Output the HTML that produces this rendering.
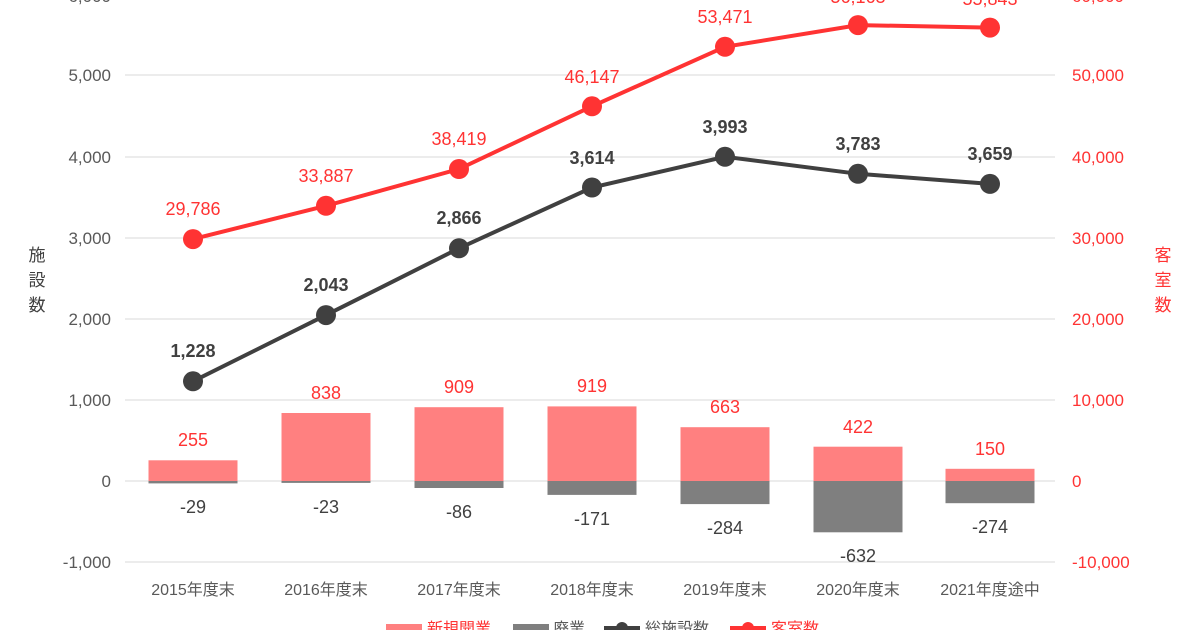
<!DOCTYPE html><html><head><meta charset="utf-8"><style>body{margin:0;background:#fff}svg{display:block}text{font-family:"Liberation Sans","Noto Sans CJK JP",sans-serif}</style></head><body>
<svg width="1200" height="630" xmlns="http://www.w3.org/2000/svg">
<g stroke="#d9d9d9" stroke-width="1">
<line x1="125" x2="1055" y1="75" y2="75"/><line x1="125" x2="1055" y1="157" y2="157"/><line x1="125" x2="1055" y1="238" y2="238"/><line x1="125" x2="1055" y1="319" y2="319"/><line x1="125" x2="1055" y1="400" y2="400"/><line x1="125" x2="1055" y1="481" y2="481"/><line x1="125" x2="1055" y1="562" y2="562"/></g>
<g font-size="17" fill="#595959" text-anchor="end">
<text x="111" y="2">6,000</text><text x="111" y="81">5,000</text><text x="111" y="163">4,000</text><text x="111" y="244">3,000</text><text x="111" y="325">2,000</text><text x="111" y="406">1,000</text><text x="111" y="487">0</text><text x="111" y="568">-1,000</text></g>
<g font-size="17" fill="#ff3333" text-anchor="start">
<text x="1072" y="2">60,000</text><text x="1072" y="81">50,000</text><text x="1072" y="163">40,000</text><text x="1072" y="244">30,000</text><text x="1072" y="325">20,000</text><text x="1072" y="406">10,000</text><text x="1072" y="487">0</text><text x="1072" y="568">-10,000</text></g>
<g font-size="17" fill="#404040" text-anchor="middle"><text x="37" y="261">施</text><text x="37" y="286">設</text><text x="37" y="311">数</text></g>
<g font-size="17" fill="#ff3333" text-anchor="middle"><text x="1163" y="261">客</text><text x="1163" y="286">室</text><text x="1163" y="311">数</text></g>
<g fill="#ff8080">
<rect x="148.5" y="460.3" width="89" height="20.7"/><rect x="281.5" y="413" width="89" height="68"/><rect x="414.5" y="407.2" width="89" height="73.8"/><rect x="547.5" y="406.4" width="89" height="74.6"/><rect x="680.5" y="427.2" width="89" height="53.8"/><rect x="813.5" y="446.7" width="89" height="34.3"/><rect x="945.5" y="468.8" width="89" height="12.2"/></g>
<g fill="#7f7f7f">
<rect x="148.5" y="481" width="89" height="2.4"/><rect x="281.5" y="481" width="89" height="1.9"/><rect x="414.5" y="481" width="89" height="7"/><rect x="547.5" y="481" width="89" height="13.9"/><rect x="680.5" y="481" width="89" height="23.1"/><rect x="813.5" y="481" width="89" height="51.3"/><rect x="945.5" y="481" width="89" height="22.2"/></g>
<g font-size="18" fill="#ff3333" text-anchor="middle">
<text x="193" y="446">255</text><text x="326" y="399">838</text><text x="459" y="393">909</text><text x="592" y="392">919</text><text x="725" y="413">663</text><text x="858" y="433">422</text><text x="990" y="455">150</text></g>
<g font-size="18" fill="#404040" text-anchor="middle">
<text x="193" y="513">-29</text><text x="326" y="513">-23</text><text x="459" y="518">-86</text><text x="592" y="525">-171</text><text x="725" y="534">-284</text><text x="858" y="562">-632</text><text x="990" y="533">-274</text></g>
<polyline fill="none" stroke="#404040" stroke-width="4" points="193,381.3 326,315.1 459,248.3 592,187.5 725,156.8 858,173.8 990,183.9"/>
<g fill="#404040"><circle cx="193" cy="381.3" r="10"/><circle cx="326" cy="315.1" r="10"/><circle cx="459" cy="248.3" r="10"/><circle cx="592" cy="187.5" r="10"/><circle cx="725" cy="156.8" r="10"/><circle cx="858" cy="173.8" r="10"/><circle cx="990" cy="183.9" r="10"/></g>
<g font-size="18" font-weight="bold" fill="#404040" text-anchor="middle">
<text x="193" y="357">1,228</text><text x="326" y="291">2,043</text><text x="459" y="224">2,866</text><text x="592" y="164">3,614</text><text x="725" y="133">3,993</text><text x="858" y="150">3,783</text><text x="990" y="160">3,659</text></g>
<polyline fill="none" stroke="#ff3333" stroke-width="4" points="193,239.1 326,205.8 459,169 592,106.3 725,46.8 858,25.1 990,27.6"/>
<g fill="#ff3333"><circle cx="193" cy="239.1" r="10"/><circle cx="326" cy="205.8" r="10"/><circle cx="459" cy="169" r="10"/><circle cx="592" cy="106.3" r="10"/><circle cx="725" cy="46.8" r="10"/><circle cx="858" cy="25.1" r="10"/><circle cx="990" cy="27.6" r="10"/></g>
<g font-size="18" fill="#ff3333" text-anchor="middle">
<text x="193" y="215">29,786</text><text x="326" y="182">33,887</text><text x="459" y="145">38,419</text><text x="592" y="83">46,147</text><text x="725" y="23">53,471</text><text x="858" y="3">56,163</text><text x="990" y="5">55,843</text></g>
<g font-size="16" fill="#595959" text-anchor="middle">
<text x="193" y="595">2015年度末</text><text x="326" y="595">2016年度末</text><text x="459" y="595">2017年度末</text><text x="592" y="595">2018年度末</text><text x="725" y="595">2019年度末</text><text x="858" y="595">2020年度末</text><text x="990" y="595">2021年度途中</text></g>
<rect x="386" y="624" width="36" height="8" fill="#ff8080"/><text x="427" y="634" font-size="16" fill="#ff3333">新規開業</text>
<rect x="513" y="624" width="36" height="8" fill="#7f7f7f"/><text x="553" y="634" font-size="16" fill="#595959">廃業</text>
<line x1="604" x2="640" y1="628" y2="628" stroke="#404040" stroke-width="4"/><circle cx="622" cy="628" r="6" fill="#404040"/><text x="645" y="634" font-size="16" fill="#595959">総施設数</text>
<line x1="730" x2="766" y1="628" y2="628" stroke="#ff3333" stroke-width="4"/><circle cx="748" cy="628" r="6" fill="#ff3333"/><text x="771" y="634" font-size="16" fill="#ff3333">客室数</text>
</svg></body></html>
